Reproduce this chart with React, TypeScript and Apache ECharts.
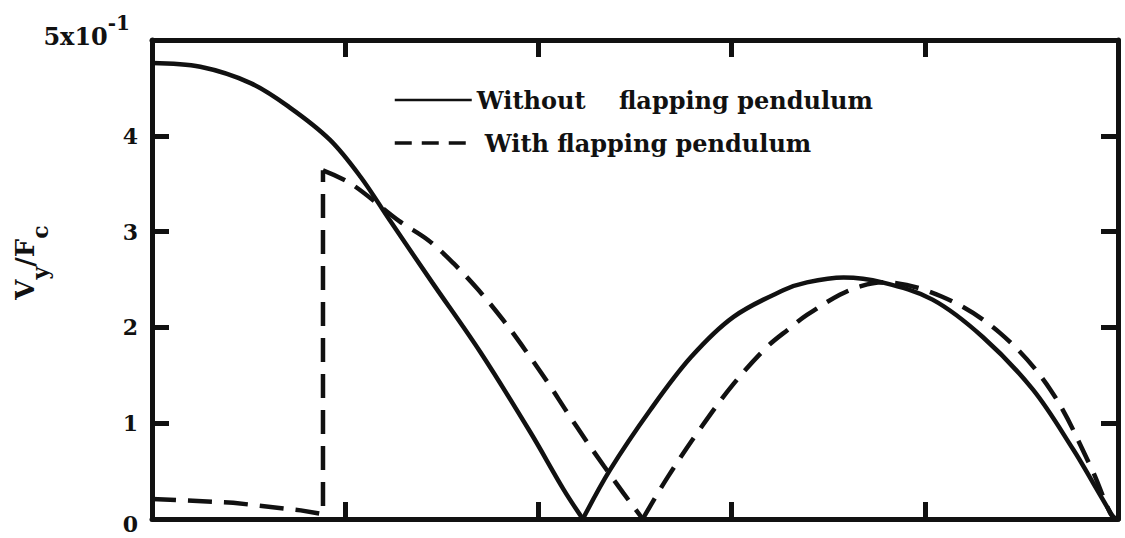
import React, { useEffect, useRef } from "react";
import * as echarts from "echarts";

// x in arbitrary units (5 equal intervals), y in units of 10^-1
const xTicks = [0, 1, 2, 3, 4, 5];
const yTicks = [0, 1, 2, 3, 4, 5];

const withoutName = "Without    flapping pendulum";
const withName = "With flapping pendulum";

// Solid curve (without flapping pendulum), two arcs
const withoutArc1X = [0, 0.25, 0.51, 0.71, 0.92, 1.08, 1.23, 1.45, 1.7, 1.96, 2.13, 2.23];
const withoutArc1Y = [4.76, 4.72, 4.55, 4.3, 3.96, 3.57, 3.12, 2.47, 1.74, 0.9, 0.31, 0];
const withoutArc2X = [2.23, 2.37, 2.58, 2.79, 3.01, 3.27, 3.39, 3.58, 3.78, 4.04, 4.3, 4.56, 4.77, 4.87, 4.98];
const withoutArc2Y = [0, 0.51, 1.14, 1.69, 2.11, 2.39, 2.47, 2.52, 2.47, 2.29, 1.9, 1.35, 0.72, 0.38, 0];

// Dashed curve (with flapping pendulum): low part + jump, then two arcs
const withLowX = [0, 0.42, 0.77, 0.885, 0.885];
const withLowY = [0.21, 0.17, 0.09, 0.05, 3.64];
const withArc1X = [0.885, 1.03, 1.28, 1.43, 1.56, 1.69, 1.82, 1.94, 2.05, 2.15, 2.25, 2.34, 2.44, 2.54];
const withArc1Y = [3.64, 3.5, 3.11, 2.91, 2.67, 2.39, 2.07, 1.74, 1.42, 1.11, 0.81, 0.55, 0.27, 0];
const withArc2X = [2.54, 2.67, 2.84, 3.01, 3.18, 3.3, 3.39, 3.56, 3.67, 3.78, 4.09, 4.39, 4.65, 4.86, 4.96, 4.99];
const withArc2Y = [0, 0.44, 0.95, 1.41, 1.79, 1.99, 2.13, 2.34, 2.43, 2.47, 2.32, 1.94, 1.35, 0.54, 0.06, 0];

const pair = (xs: number[], ys: number[]) => xs.map((x, i) => [x, ys[i]]);

export default function App() {
  const ref = useRef<HTMLDivElement>(null);
  useEffect(() => {
    const chart = echarts.init(ref.current!, null, { renderer: "svg" });
    const font = "DejaVu Serif";
    const black = "#111";
    const axisCommon = {
      type: "value",
      min: xTicks[0],
      max: xTicks[xTicks.length - 1],
      interval: 1,
      axisLine: { show: true, onZero: false, lineStyle: { color: black, width: 5 } },
      axisTick: { show: true, inside: true, length: 17, lineStyle: { color: black, width: 5 } },
      axisLabel: { show: false },
      splitLine: { show: false },
    };
    const yCommon = { ...axisCommon, min: yTicks[0], max: yTicks[yTicks.length - 1] };
    const solid = { color: black, width: 4.5 };
    const dashed = { color: black, width: 4.5, type: [24, 12] };
    const mk = (name: string, data: number[][], lineStyle: any, smooth: number | boolean) => ({
      name,
      type: "line",
      data,
      symbol: "none",
      showSymbol: false,
      color: black,
      smooth,
      lineStyle,
    });
    chart.setOption({
      animation: false,
      backgroundColor: "#fff",
      textStyle: { fontFamily: font, color: black },
      grid: { left: 152, right: 7, top: 40, bottom: 19, containLabel: false, outerBoundsMode: "none" },
      xAxis: [
        { ...axisCommon, position: "bottom" },
        { ...axisCommon, position: "top" },
      ],
      yAxis: [
        {
          ...yCommon,
          position: "left",
          axisLabel: {
            show: true,
            margin: 14,
            fontFamily: font,
            color: black,
            formatter: (v: number) =>
              v === 5 ? "{m|5x10}{s|-1}" : v === 0 ? "{z|0}" : "{d|" + v + "}",
            rich: {
              m: { fontFamily: font, fontSize: 24, fontWeight: "bold", color: black, padding: [0, 0, 8, 0] },
              s: { fontFamily: font, fontSize: 20, fontWeight: "bold", color: black, padding: [0, 8, 34, 0] },
              d: { fontFamily: font, fontSize: 22, fontWeight: "bold", color: black },
              z: { fontFamily: font, fontSize: 22, fontWeight: "bold", color: black, padding: [10, 0, 0, 0] },
            },
          },
          name: "{v|V}{s|y}{v|/F}{s|c}",
          nameLocation: "middle",
          nameGap: 101,
          nameMoveOverlap: false,
          nameTextStyle: {
            padding: [0, 0, 0, 34],
            rich: {
              v: { fontFamily: font, fontSize: 26, fontWeight: "bold", color: black },
              s: { fontFamily: font, fontSize: 22, fontWeight: "bold", color: black, padding: [30, 0, 0, 0] },
            },
          },
        },
        { ...yCommon, position: "right" },
      ],
      legend: {
        orient: "vertical",
        left: 393,
        top: 88,
        padding: 0,
        itemGap: 19,
        itemWidth: 77,
        itemHeight: 20,
        itemStyle: { opacity: 0 },
        textStyle: { fontFamily: font, fontSize: 24, fontWeight: "bold", color: black },
        data: [
          { name: withoutName, lineStyle: { width: 2.5, type: "solid", color: black } },
          {
            name: withName,
            lineStyle: { width: 3.5, type: [17, 10], color: black },
            textStyle: { padding: [0, 0, 0, 8] },
          },
        ],
      },
      series: [
        mk(withoutName, pair(withoutArc1X, withoutArc1Y), solid, 0.35),
        mk(withoutName, pair(withoutArc2X, withoutArc2Y), solid, 0.35),
        mk(withName, pair(withLowX, withLowY), dashed, false),
        mk(withName, pair(withArc1X, withArc1Y), dashed, 0.35),
        mk(withName, pair(withArc2X, withArc2Y), dashed, 0.35),
      ],
    });
    return () => chart.dispose();
  }, []);
  return (
    <div
      ref={ref}
      style={{ position: "fixed", left: 0, top: 0, width: 1125, height: 538, background: "#fff" }}
    />
  );
}
